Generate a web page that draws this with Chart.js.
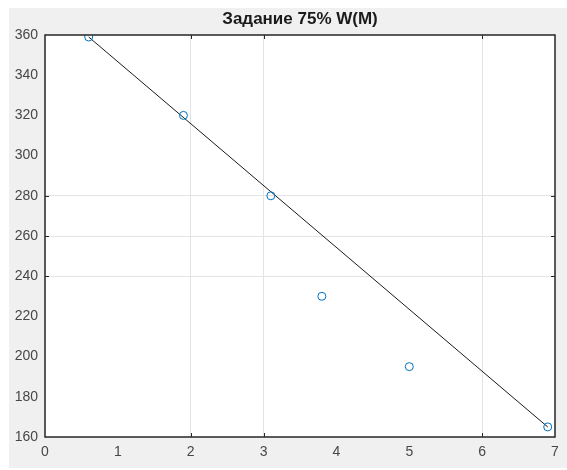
<!DOCTYPE html>
<html>
<head>
<meta charset="utf-8">
<script src="https://cdn.jsdelivr.net/npm/chart.js@4.4.1/dist/chart.umd.min.js"></script>
<style>
    html, body { margin: 0; padding: 0; background: #ffffff; }
    #wrap {
        position: absolute;
        left: 9px;
        top: 8px;
        width: 558px;
        height: 460px;
        background: #f0f0f0;
    }
</style>
</head>
<body>
<div id="wrap"><canvas id="plot" width="558" height="460"></canvas></div>
<script>
// Измерения
const xData = [0.6, 1.9, 3.1, 3.8, 5.0, 6.9];
const yData = [359, 320, 280, 230, 195, 165];

// Аппроксимирующая прямая
const fitX = [0.6, 6.9];
const fitY = [359, 165];

// Оси
const xTicks = [0, 1, 2, 3, 4, 5, 6, 7];
const yTicks = [160, 180, 200, 220, 240, 260, 280, 300, 320, 340, 360];
const xGrid = [2, 3, 6];
const yGrid = [240, 260, 280];

const titleText = 'Задание 75% W(M)';

(function() {
    'use strict';

    const axisColor = '#262626';
    const gridColor = '#e3e3e3';
    const fontFamily = '"Liberation Sans", Arial, sans-serif';

    // Белое поле графика, рамка и внутренние засечки
    const boxPlugin = {
        id: 'axesBox',
        beforeDraw(chart) {
            const a = chart.chartArea;
            const ctx = chart.ctx;
            ctx.save();
            ctx.fillStyle = '#ffffff';
            ctx.fillRect(a.left, a.top, a.right - a.left, a.bottom - a.top);
            ctx.restore();
        },
        afterDraw(chart) {
            const a = chart.chartArea;
            const ctx = chart.ctx;
            const sx = chart.scales.x;
            const sy = chart.scales.y;
            ctx.save();
            ctx.strokeStyle = axisColor;
            ctx.lineWidth = 1.5;
            ctx.strokeRect(a.left, a.top, a.right - a.left, a.bottom - a.top);

            ctx.lineWidth = 1;
            ctx.beginPath();
            xGrid.forEach(v => {
                const px = Math.round(sx.getPixelForValue(v)) + 0.5;
                ctx.moveTo(px, a.bottom);
                ctx.lineTo(px, a.bottom - 4);
                ctx.moveTo(px, a.top);
                ctx.lineTo(px, a.top + 4);
            });
            yGrid.forEach(v => {
                const py = Math.round(sy.getPixelForValue(v)) + 0.5;
                ctx.moveTo(a.left, py);
                ctx.lineTo(a.left + 4, py);
                ctx.moveTo(a.right, py);
                ctx.lineTo(a.right - 4, py);
            });
            ctx.stroke();
            ctx.restore();
        }
    };

    const ctx = document.getElementById('plot').getContext('2d');

    new Chart(ctx, {
        type: 'scatter',
        data: {
            datasets: [
                {
                    label: 'fit',
                    data: fitX.map((x, i) => ({ x: x, y: fitY[i] })),
                    showLine: true,
                    borderColor: '#1a1a1a',
                    borderWidth: 1,
                    pointRadius: 0,
                    order: 1
                },
                {
                    label: 'W',
                    data: xData.map((x, i) => ({ x: x, y: yData[i] })),
                    showLine: false,
                    pointStyle: 'circle',
                    pointRadius: 4,
                    pointBorderWidth: 1,
                    pointBorderColor: '#0072bd',
                    pointBackgroundColor: 'rgba(0,0,0,0)',
                    order: 0
                }
            ]
        },
        options: {
            responsive: false,
            animation: false,
            layout: {
                padding: { left: 0, right: 12, top: 0, bottom: 0 }
            },
            plugins: {
                legend: { display: false },
                tooltip: { enabled: false },
                title: {
                    display: true,
                    text: titleText,
                    fullSize: false,
                    color: '#1a1a1a',
                    font: { family: fontFamily, size: 17, weight: 'bold', lineHeight: 1.2 },
                    padding: { top: 0.8, bottom: 5.8 }
                }
            },
            scales: {
                x: {
                    type: 'linear',
                    min: 0,
                    max: 7,
                    afterBuildTicks(scale) {
                        scale.ticks = xTicks.map(v => ({ value: v }));
                    },
                    afterFit(scale) {
                        scale.height = 31;
                    },
                    grid: {
                        drawTicks: false,
                        color: c => xGrid.includes(c.tick && c.tick.value) ? gridColor : 'rgba(0,0,0,0)'
                    },
                    border: { display: false },
                    ticks: {
                        color: '#474747',
                        padding: 6.6,
                        maxRotation: 0,
                        font: { family: fontFamily, size: 14 }
                    }
                },
                y: {
                    type: 'linear',
                    min: 160,
                    max: 360,
                    afterBuildTicks(scale) {
                        scale.ticks = yTicks.map(v => ({ value: v }));
                    },
                    afterFit(scale) {
                        scale.width = 36;
                    },
                    grid: {
                        drawTicks: false,
                        color: c => yGrid.includes(c.tick && c.tick.value) ? gridColor : 'rgba(0,0,0,0)'
                    },
                    border: { display: false },
                    ticks: {
                        color: '#474747',
                        padding: 7,
                        font: { family: fontFamily, size: 14 }
                    }
                }
            }
        },
        plugins: [boxPlugin]
    });
})();
</script>
</body>
</html>
